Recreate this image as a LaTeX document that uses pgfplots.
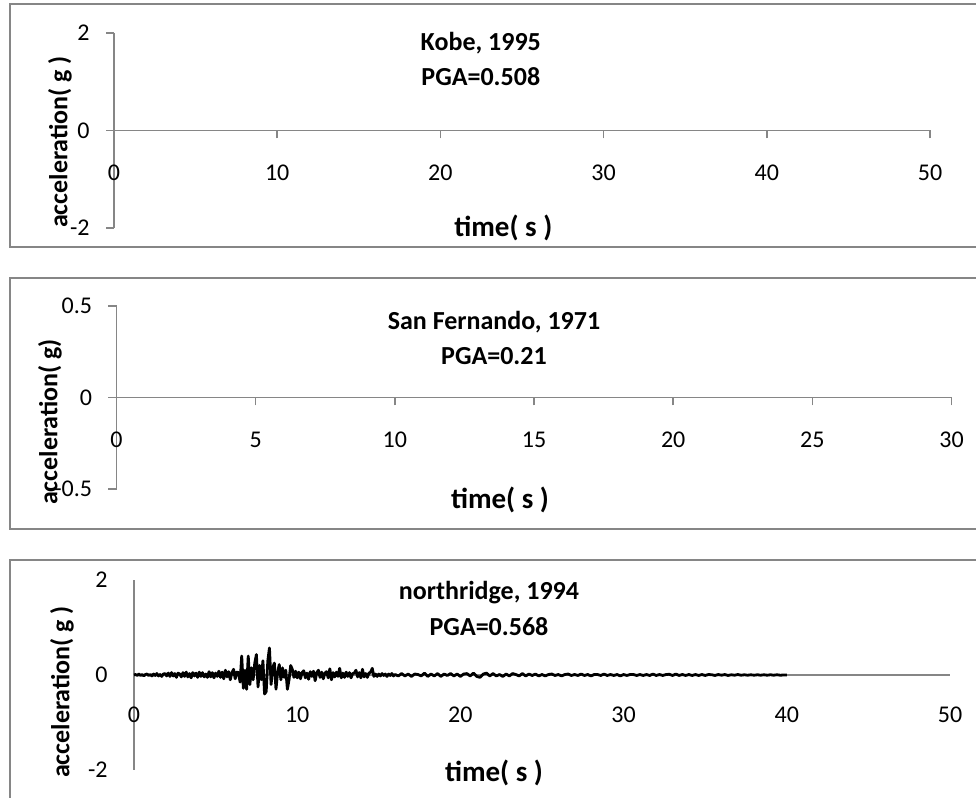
\documentclass[border=0pt]{standalone}
\usepackage{pgfplots}
\pgfplotsset{compat=1.18}
\usepackage{fontspec}
\setmainfont{Carlito}
\definecolor{axgray}{RGB}{134,134,134}
\pgfplotsset{
  eq/.style={
    scale only axis,
    anchor=south west,
    axis x line=middle,
    axis y line=left,
    axis line style={axgray, line width=0.75pt, -},
    tick style={axgray, line width=0.75pt},
    tick align=outside,
    major tick length=4pt,
    minor tick num=0,
    ticklabel style={font=\fontsize{12}{14}\selectfont, text=black},
    xticklabel style={anchor=center, inner sep=0pt, yshift=-17pt},
    yticklabel style={anchor=east, inner sep=0pt, xshift=-8pt},
    hide obscured x ticks=false,
    hide obscured y ticks=false,
    clip=false,
  }
}
\newcommand{\ttl}{\fontsize{13}{15}\selectfont\bfseries}
\newcommand{\tml}{\fontsize{14.5}{16}\selectfont\bfseries}
\newcommand{\yl}{\fontsize{13}{15}\selectfont\bfseries}
\begin{document}
\begin{tikzpicture}
\useasboundingbox (0,0) rectangle (488pt,399pt);
% panel frames
\draw[axgray, line width=1.2pt] (489pt,397pt) -- (5pt,397pt) -- (5pt,275.5pt) -- (489pt,275.5pt);
\draw[axgray, line width=1.2pt] (489pt,260pt) -- (5pt,260pt) -- (5pt,134.5pt) -- (489pt,134.5pt);
\draw[axgray, line width=1.2pt] (489pt,119pt) -- (5pt,119pt) -- (5pt,-1pt);

% Panel 1: Kobe
\begin{axis}[eq, at={(57pt,285pt)}, width=408pt, height=97.5pt,
  xmin=0, xmax=50, ymin=-2, ymax=2,
  xtick={0,10,20,30,40,50}, xticklabels={0,10,20,30,40,50},
  ytick={-2,0,2}, yticklabels={-2,0,2}]
\end{axis}
\node[font=\ttl] at (240.4pt,377.5pt) {Kobe, 1995};
\node[font=\ttl] at (240.4pt,360.5pt) {PGA=0.508};
\node[font=\tml] at (251.7pt,285pt) {time( s )};
\node[font=\yl, rotate=90] at (30pt,328pt) {acceleration( g )};

% Panel 2: San Fernando
\begin{axis}[eq, at={(58.25pt,154.5pt)}, width=417.5pt, height=91.5pt,
  xmin=0, xmax=30, ymin=-0.5, ymax=0.5,
  xtick={0,5,10,15,20,25,30}, xticklabels={0,5,10,15,20,25,30},
  ytick={-0.5,0,0.5}, yticklabels={-0.5,0,0.5}]
\end{axis}
\node[font=\ttl] at (247pt,238pt) {San Fernando, 1971};
\node[font=\ttl] at (247pt,221pt) {PGA=0.21};
\node[font=\tml] at (250pt,149pt) {time( s )};
\node[font=\yl, rotate=90] at (25pt,188pt) {acceleration( g)};

% Panel 3: Northridge
\begin{axis}[eq, at={(67pt,14pt)}, width=408pt, height=95pt,
  xmin=0, xmax=50, ymin=-2, ymax=2, major tick length=0pt,
  xtick={0,10,20,30,40,50}, xticklabels={0,10,20,30,40,50},
  ytick={-2,0,2}, yticklabels={-2,0,2},
  xticklabel style={yshift=-3pt},
  yticklabel style={xshift=-5pt}]
\addplot[black, line width=1.4pt, line join=round] coordinates {
(0.0,0) (0.1,0.01) (0.2,-0.01) (0.3,0.02) (0.4,-0.01) (0.5,0.01) (0.6,-0.02) (0.7,0.01) (0.8,0.02) (0.9,-0.01)
(1.0,0.01) (1.1,-0.02) (1.2,0.02) (1.3,-0.01) (1.4,0.03) (1.5,-0.02) (1.6,0.01) (1.7,-0.03) (1.8,0.02) (1.9,0.03)
(2.0,-0.02) (2.1,0.04) (2.2,-0.03) (2.3,0.05) (2.4,-0.02) (2.5,0.03) (2.6,-0.05) (2.7,0.04) (2.8,0.02) (2.9,-0.04)
(3.0,0.05) (3.1,-0.03) (3.2,0.06) (3.3,-0.04) (3.4,0.03) (3.5,-0.06) (3.6,0.05) (3.7,-0.02) (3.8,0.04) (3.9,-0.05)
(4.0,0.06) (4.1,-0.03) (4.2,0.05) (4.3,-0.04) (4.4,0.02) (4.5,-0.05) (4.6,0.07) (4.7,-0.04) (4.8,0.05) (4.9,-0.06)
(5.0,0.04) (5.1,-0.03) (5.2,0.08) (5.3,-0.05) (5.4,0.06) (5.5,-0.08) (5.6,0.1) (5.7,-0.04) (5.8,0.07) (5.9,-0.1)
(6.0,0.05) (6.1,0.12) (6.2,-0.08) (6.3,0.06) (6.4,0.05) (6.5,-0.15) (6.6,0.4) (6.7,-0.28) (6.8,0.1) (6.9,-0.3)
(7.0,0.4) (7.1,-0.2) (7.2,0.15) (7.3,-0.1) (7.4,0.25) (7.5,0.43) (7.6,-0.25) (7.7,0.2) (7.8,-0.1) (7.9,0.3)
(8.0,-0.4) (8.1,-0.35) (8.2,0.3) (8.3,0.57) (8.4,-0.2) (8.5,0.15) (8.6,0.25) (8.7,-0.3) (8.8,0.05) (8.9,0.22)
(9.0,-0.1) (9.1,0.15) (9.2,-0.05) (9.3,0.1) (9.4,-0.3) (9.5,-0.1) (9.6,0.2) (9.7,0.12) (9.8,-0.05) (9.9,0.08)
(10.0,-0.06) (10.1,0.06) (10.2,-0.08) (10.3,0.05) (10.4,0.09) (10.5,-0.06) (10.6,0.04) (10.7,-0.09) (10.8,0.07) (10.9,-0.03)
(11.0,0.08) (11.1,-0.12) (11.2,0.05) (11.3,0.1) (11.4,-0.05) (11.5,0.06) (11.6,-0.08) (11.7,0.04) (11.8,0.07) (11.9,-0.06)
(12.0,0.13) (12.1,-0.1) (12.2,0.05) (12.3,-0.04) (12.4,0.06) (12.5,-0.03) (12.6,0.14) (12.7,-0.06) (12.8,0.04) (12.9,-0.05)
(13.0,0.06) (13.1,-0.03) (13.2,0.05) (13.3,-0.06) (13.4,0.03) (13.5,0.04) (13.6,0.1) (13.7,-0.04) (13.8,0.05) (13.9,-0.06)
(14.0,0.12) (14.1,-0.04) (14.2,0.03) (14.3,-0.05) (14.4,0.04) (14.5,0.06) (14.6,0.14) (14.7,-0.03) (14.8,0.02) (14.9,-0.03)
(15.0,0.02) (15.1,-0.02) (15.2,0.03) (15.3,-0.01) (15.4,0.02) (15.5,-0.03) (15.6,0.02) (15.7,-0.01) (15.8,0.03) (15.9,-0.02)
(16.0,0.01) (16.2,-0.02) (16.4,0.03) (16.6,-0.02) (16.8,0.02) (17.0,-0.03) (17.2,0.02) (17.4,0.01) (17.6,-0.02) (17.8,0.04)
(18.0,-0.03) (18.2,0.02) (18.4,-0.02) (18.6,0.03) (18.8,-0.03) (19.0,0.02) (19.2,-0.01) (19.4,0.03) (19.6,-0.02) (19.8,0.02)
(20.0,-0.03) (20.2,0.02) (20.4,0.03) (20.6,-0.02) (20.8,0.04) (21.0,-0.03) (21.2,-0.05) (21.4,0.02) (21.6,0.04) (21.8,-0.02)
(22.0,0.03) (22.2,-0.02) (22.4,0.01) (22.6,-0.03) (22.8,0.02) (23.0,-0.02) (23.2,0.03) (23.4,0.01) (23.6,-0.02) (23.8,0.03)
(24.0,-0.02) (24.2,0.02) (24.4,-0.01) (24.6,0.02) (24.8,-0.02) (25.0,0.01) (25.2,-0.02) (25.4,0.01) (25.6,0.02) (25.8,-0.01)
(26.0,0.01) (26.2,-0.02) (26.4,0.01) (26.6,0.02) (26.8,-0.01) (27.0,0.01) (27.2,-0.01) (27.4,0.02) (27.6,-0.01) (27.8,0.01)
(28.0,-0.02) (28.2,0.01) (28.4,0.01) (28.6,-0.01) (28.8,0.02) (29.0,-0.01) (29.2,0.01) (29.4,-0.01) (29.6,0.01) (29.8,-0.02)
(30.0,0.01) (30.2,-0.01) (30.4,0.01) (30.6,0.01) (30.8,-0.01) (31.0,0.01) (31.2,-0.01) (31.4,0.01) (31.6,-0.01) (31.8,0.02)
(32.0,-0.01) (32.2,0.01) (32.4,-0.01) (32.6,0.01) (32.8,0.015) (33.0,-0.01) (33.2,0.02) (33.4,-0.01) (33.6,0.01) (33.8,-0.01)
(34.0,0.01) (34.2,-0.01) (34.4,0.01) (34.6,-0.01) (34.8,0.01) (35.0,-0.01) (35.2,0.01) (35.4,0.005) (35.6,-0.01) (35.8,0.01)
(36.0,-0.005) (36.2,0.01) (36.4,-0.01) (36.6,0.005) (36.8,-0.005) (37.0,0.01) (37.2,-0.005) (37.4,0.005) (37.6,-0.005) (37.8,0.005)
(38.0,-0.005) (38.2,0.005) (38.4,-0.005) (38.6,0.005) (38.8,-0.005) (39.0,0.005) (39.2,-0.005) (39.4,0.005) (39.6,-0.005) (39.8,0)
(40.0,0)
};
\end{axis}
\node[font=\ttl] at (244.5pt,102.5pt) {northridge, 1994};
\node[font=\ttl] at (244.5pt,85.5pt) {PGA=0.568};
\node[font=\tml] at (247pt,12.5pt) {time( s )};
\node[font=\yl, rotate=90] at (31pt,53pt) {acceleration( g )};
\end{tikzpicture}
\end{document}
